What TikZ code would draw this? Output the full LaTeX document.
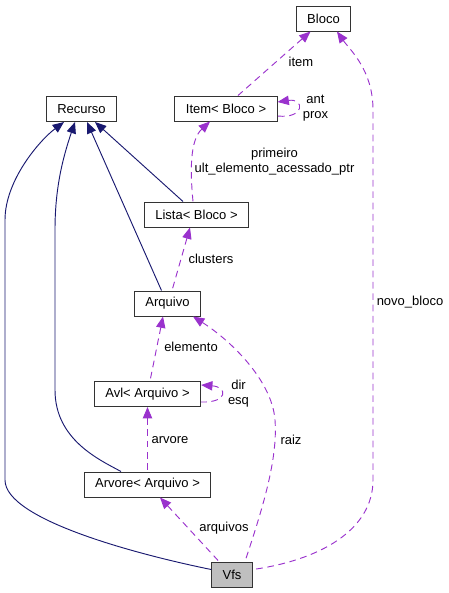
\documentclass[tikz,border=0pt]{standalone}
\usepackage{fontspec}
\setmainfont{Liberation Sans}
\usepackage{xcolor}
\usetikzlibrary{arrows.meta, calc}
\definecolor{edgeblue}{HTML}{191970}
\definecolor{edgepurple}{HTML}{9A32CD}
\definecolor{boxgray}{HTML}{BFBFBF}

\begin{document}
\begin{tikzpicture}[
    x=0.75pt, y=-0.75pt,
    font=\fontsize{9.75}{11.25}\selectfont,
    box/.style={
        rectangle, draw=black!80, fill=white, line width=0.75pt,
        minimum height=18.75pt, inner xsep=8.2pt, inner ysep=0pt
    },
    inh/.style={{Triangle[length=8.5pt,width=7pt]}-, draw=edgeblue, line width=0.7pt},
    usedby/.style={{Triangle[length=8.5pt,width=7pt]}-, draw=edgepurple, line width=0.7pt,
        dash pattern=on 5pt off 3.5pt},
    lbl/.style={align=center, inner sep=0pt}
]
    \useasboundingbox (0,0) rectangle (449,593);

    %% Classes
    \node[box] (bloco) at (323.5,18.5) {Bloco};
    \node[box] (recurso) at (81.5,109) {Recurso};
    \node[box] (item) at (226,108.5) {Item< Bloco >};
    \node[box] (lista) at (196.5,214.5) {Lista< Bloco >};
    \node[box] (arquivo) at (167.5,303.5) {Arquivo};
    \node[box] (avl) at (147.5,394) {Avl< Arquivo >};
    \node[box] (arvore) at (147.5,484.5) {Arvore< Arquivo >};
    \node[box, fill=boxgray] (vfs) at (232,574.5) {Vfs};

    %% Inheritance
    \draw[inh] ($(recurso.south)+(-17.5,0)$) .. controls (40,140) and (5,180) .. (5,220)
        -- (5,480) .. controls (5,520) and (140,555) .. ($(vfs.west)+(0,-5)$);
    \draw[inh] ($(recurso.south)+(-6.5,0)$) .. controls (62,160) and (55,190) .. (55,230)
        -- (55,390) .. controls (55,440) and (100,460) .. ($(arvore.north)+(-26.5,0)$);
    \draw[inh] ($(recurso.south)+(5.5,0)$) -- ($(arquivo.north)+(-6,0)$);
    \draw[inh] ($(recurso.south)+(13.5,0)$) -- ($(lista.north)+(-13.5,0)$);

    %% Usage
    \draw[usedby] ($(bloco.south)+(-13,0)$) -- ($(item.north)+(12,0)$);
    \draw[usedby] ($(bloco.south)+(13.5,0)$) .. controls (350,50) and (373,70) .. (373,110)
        -- (373,480) .. controls (373,530) and (320,560) .. ($(vfs.east)+(0,-5)$);
    \draw[usedby] ($(item.east)+(0,-6.5)$) .. controls (305,98) and (305,119) .. ($(item.east)+(0,7.5)$);
    \draw[usedby] ($(item.south)+(-16,0)$) .. controls (190,140) and (190,170) .. ($(lista.north)+(-3.5,0)$);
    \draw[usedby] ($(lista.south)+(-6.5,0)$) -- ($(arquivo.north)+(4.5,0)$);
    \draw[usedby] ($(arquivo.south)+(-4.5,0)$) -- ($(avl.north)+(2.5,0)$);
    \draw[usedby] ($(arquivo.south)+(25.5,0)$) .. controls (230,340) and (272,380) .. (275,420)
        .. controls (278,460) and (262,510) .. ($(vfs.north)+(13,0)$);
    \draw[usedby] ($(avl.east)+(0,-9)$) .. controls (228,387) and (228,403) .. ($(avl.east)+(0,8)$);
    \draw[usedby] (avl.south) -- (arvore.north);
    \draw[usedby] ($(arvore.south)+(12.5,0)$) -- ($(vfs.north)+(-13,0)$);

    %% Labels
    \node[lbl] (l-item) at (301,62) {item};
    \node[lbl] (l-antprox) at (315.5,108) {ant\\prox};
    \node[lbl] (l-primeiro) at (274.5,162) {primeiro\\ult\_elemento\_acessado\_ptr};
    \node[lbl] (l-clusters) at (211,259) {clusters};
    \node[lbl] (l-novo) at (410,302) {novo\_bloco};
    \node[lbl] (l-elemento) at (191,347) {elemento};
    \node[lbl] (l-dir) at (238.5,393.5) {dir\\esq};
    \node[lbl] (l-arvore) at (170,440) {arvore};
    \node[lbl] (l-raiz) at (291,440) {raiz};
    \node[lbl] (l-arquivos) at (224,528) {arquivos};
\end{tikzpicture}
\end{document}
